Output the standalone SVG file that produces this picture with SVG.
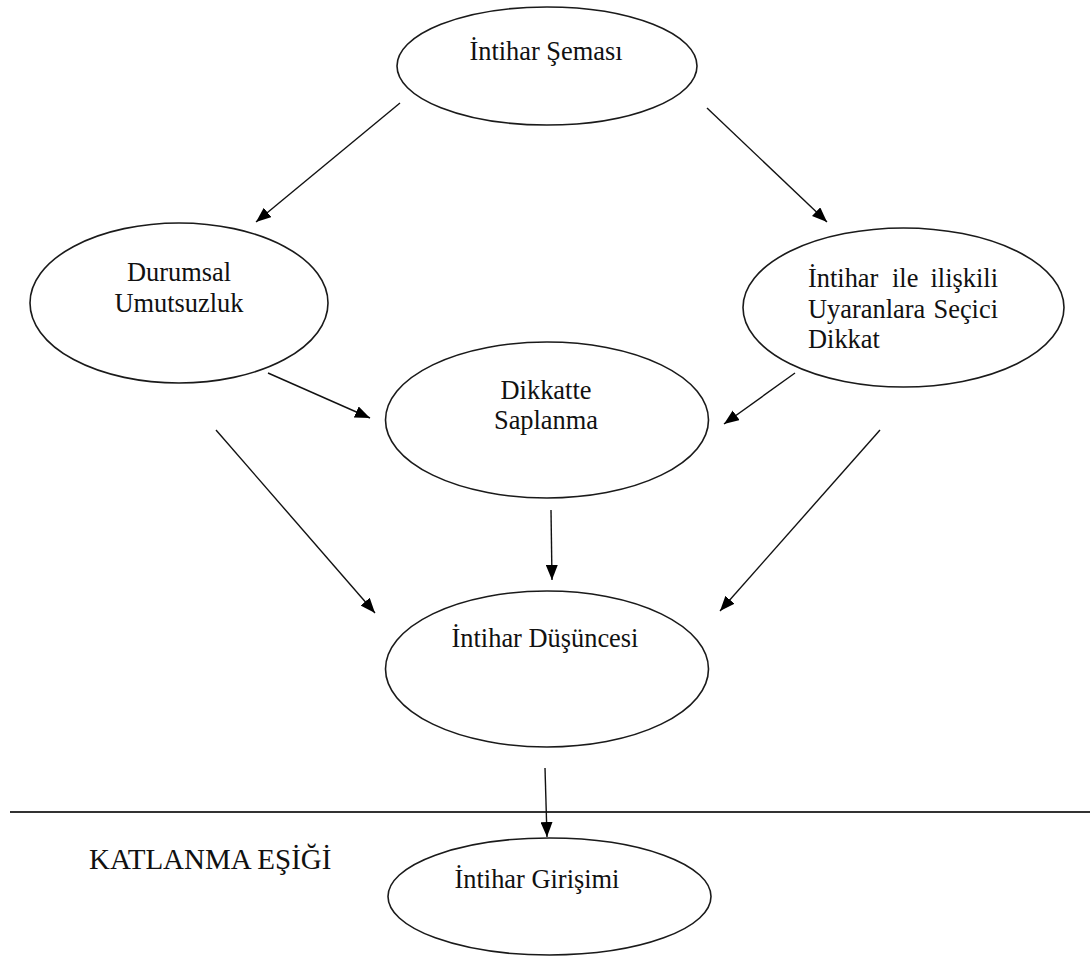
<svg xmlns="http://www.w3.org/2000/svg" width="1090" height="958" viewBox="0 0 1090 958">
  <style>
    .node ellipse { fill: #ffffff; stroke: #1a1a1a; stroke-width: 1.6; }
    .lbl { font-family: "Liberation Serif", "Times New Roman", serif; font-size: 26.4px; fill: #111111; }
    .cap { font-size: 29px; }
    .mid { text-anchor: middle; }
    .end { text-anchor: end; }
    .edge { stroke: #111111; stroke-width: 1.4; fill: none; marker-end: url(#head); }
  </style>
  <defs>
    <marker id="head" markerUnits="userSpaceOnUse" markerWidth="16" markerHeight="12" refX="15" refY="6" orient="auto">
      <path d="M0,0 L15,6 L0,12 z" fill="#000000"/>
    </marker>
  </defs>
  <rect width="1090" height="958" fill="#ffffff"/>

  <!-- threshold line and its caption -->
  <line x1="10" y1="812" x2="1090" y2="812" stroke="#333333" stroke-width="1.8"/>
  <text class="lbl cap" x="89" y="869">KATLANMA EŞİĞİ</text>

  <g id="connectors">
    <line class="edge" x1="400" y1="103" x2="256" y2="222"/>
    <line class="edge" x1="707" y1="108" x2="827" y2="222"/>
    <line class="edge" x1="268" y1="373" x2="370" y2="418"/>
    <line class="edge" x1="795" y1="373" x2="724" y2="424"/>
    <line class="edge" x1="216" y1="430" x2="375" y2="613"/>
    <line class="edge" x1="880" y1="430" x2="720" y2="611"/>
    <line class="edge" x1="551" y1="510" x2="552" y2="580"/>
    <line class="edge" x1="545" y1="768" x2="547" y2="837"/>
  </g>

  <g id="intihar-semasi" class="node">
    <ellipse cx="547" cy="66" rx="150" ry="59"/>
    <text class="lbl mid" x="546" y="60">İntihar Şeması</text>
  </g>

  <g id="durumsal-umutsuzluk" class="node">
    <ellipse cx="179" cy="303" rx="149" ry="80"/>
    <text class="lbl mid" x="179" y="281">Durumsal</text>
    <text class="lbl mid" x="179" y="312">Umutsuzluk</text>
  </g>

  <g id="secici-dikkat" class="node">
    <ellipse cx="903.5" cy="307.5" rx="160.5" ry="79.5"/>
    <text class="lbl" x="808" y="287">İntihar</text>
    <text class="lbl" x="892" y="287">ile</text>
    <text class="lbl end" x="998" y="287">ilişkili</text>
    <text class="lbl" x="808" y="318">Uyaranlara</text>
    <text class="lbl end" x="998" y="318">Seçici</text>
    <text class="lbl" x="808" y="348">Dikkat</text>
  </g>

  <g id="dikkatte-saplanma" class="node">
    <ellipse cx="547" cy="420" rx="161.5" ry="78"/>
    <text class="lbl mid" x="546" y="399">Dikkatte</text>
    <text class="lbl mid" x="546" y="429">Saplanma</text>
  </g>

  <g id="intihar-dusuncesi" class="node">
    <ellipse cx="547" cy="669" rx="161.5" ry="78"/>
    <text class="lbl mid" x="545" y="647">İntihar Düşüncesi</text>
  </g>

  <g id="intihar-girisimi" class="node">
    <ellipse cx="549.5" cy="896.5" rx="161.5" ry="58.5"/>
    <text class="lbl mid" x="537" y="888">İntihar Girişimi</text>
  </g>
</svg>
